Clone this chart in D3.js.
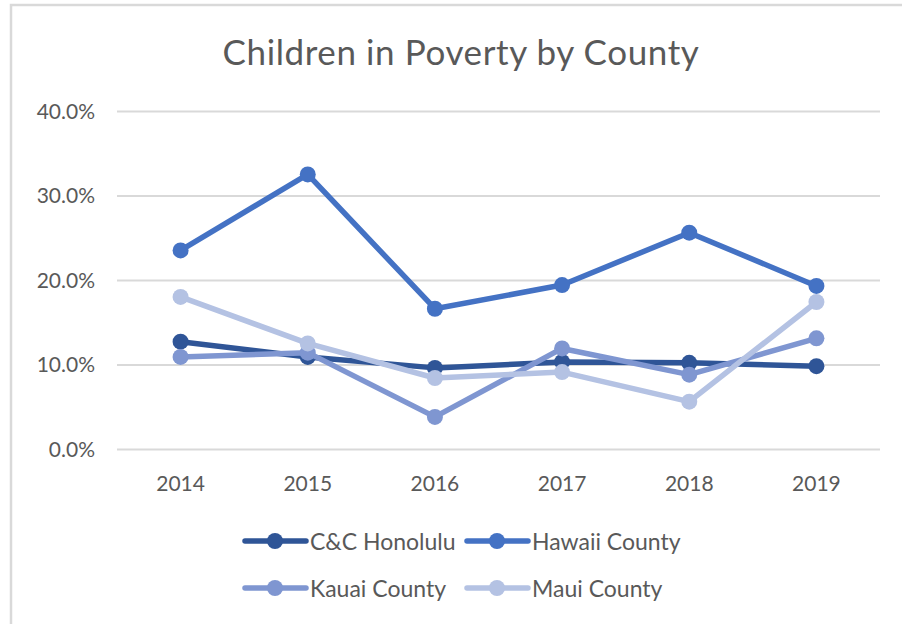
<!DOCTYPE html>
<html>
<head>
<meta charset="utf-8">
<script src="https://cdn.jsdelivr.net/npm/d3@7"></script>
<style>
  body { margin: 0; background: #fff; }
  text { font-family: Lato, "Open Sans", sans-serif; fill: #595959; }
</style>
</head>
<body>
<div id="chart"></div>
<script>
// data (percent)
const years = ['2014', '2015', '2016', '2017', '2018', '2019'];
const honolulu = [12.7, 10.9, 9.6, 10.3, 10.2, 9.8];
const hawaii = [23.5, 32.5, 16.6, 19.4, 25.6, 19.3];
const kauai = [10.9, 11.4, 3.8, 11.9, 8.8, 13.1];
const maui = [18.0, 12.5, 8.4, 9.1, 5.6, 17.4];
const seriesNames = ['C&C Honolulu', 'Hawaii County', 'Kauai County', 'Maui County'];
const yTicks = [0, 10, 20, 30, 40];

const colors = ['#2f5597', '#4472c4', '#7f96d1', '#b4c2e3'];
const series = [honolulu, hawaii, kauai, maui].map((vals, i) => ({
  name: seriesNames[i],
  color: colors[i],
  values: vals.map((v, j) => ({ year: years[j], v })),
}));

const w = 902;
const h = 624;
const svg = d3.select('#chart')
  .append('svg')
  .attr('width', w)
  .attr('height', h);

// chart frame (runs off right/bottom edge in the original)
svg.append('rect')
  .attr('x', 11)
  .attr('y', 5)
  .attr('width', w + 20)
  .attr('height', h + 20)
  .attr('fill', 'none')
  .attr('stroke', '#d9d9d9')
  .attr('stroke-width', 2.5);

svg.append('text')
  .attr('x', 461)
  .attr('y', 65)
  .attr('text-anchor', 'middle')
  .attr('font-size', '35px')
  .attr('letter-spacing', '0.6px')
  .text('Children in Poverty by County');

const x = d3.scalePoint()
  .domain(years)
  .range([117, 880])
  .padding(0.5);

const y = d3.scaleLinear()
  .domain([0, 40])
  .range([449, 111]);

// gridlines
svg.append('g')
  .attr('transform', 'translate(117,0)')
  .call(d3.axisLeft(y).tickValues(yTicks).tickSize(-763).tickFormat(''))
  .call((g) => g.select('.domain').remove())
  .call((g) => g.selectAll('line').attr('stroke', '#d9d9d9').attr('stroke-width', 2));

// y labels
svg.append('g')
  .selectAll('text')
  .data(yTicks)
  .enter()
  .append('text')
  .attr('x', 95)
  .attr('y', (d) => y(d) + 7.5)
  .attr('text-anchor', 'end')
  .attr('font-size', '21px')
  .text((d) => `${d.toFixed(1)}%`);

// x labels
svg.append('g')
  .selectAll('text')
  .data(years)
  .enter()
  .append('text')
  .attr('x', (d) => x(d))
  .attr('y', 491)
  .attr('text-anchor', 'middle')
  .attr('font-size', '21px')
  .text((d) => d);

const line = d3.line()
  .x((d) => x(d.year))
  .y((d) => y(d.v));

const sg = svg.selectAll('.series')
  .data(series)
  .enter()
  .append('g');

sg.append('path')
  .attr('d', (s) => line(s.values))
  .attr('fill', 'none')
  .attr('stroke', (s) => s.color)
  .attr('stroke-width', 5.5)
  .attr('stroke-linejoin', 'round');

sg.selectAll('circle')
  .data((s) => s.values.map((p) => ({ ...p, color: s.color })))
  .enter()
  .append('circle')
  .attr('cx', (d) => x(d.year))
  .attr('cy', (d) => y(d.v))
  .attr('r', 8)
  .attr('fill', (d) => d.color);

// legend, 2 x 2
const legend = svg.selectAll('.legend')
  .data(series)
  .enter()
  .append('g')
  .attr('transform', (_, i) => `translate(${i % 2 === 0 ? 245 : 467},${i < 2 ? 541 : 588})`);

legend.append('line')
  .attr('x1', 0)
  .attr('x2', 61)
  .attr('stroke', (s) => s.color)
  .attr('stroke-width', 5.5)
  .attr('stroke-linecap', 'round');

legend.append('circle')
  .attr('cx', 30)
  .attr('r', 8)
  .attr('fill', (s) => s.color);

legend.append('text')
  .attr('x', 65)
  .attr('y', 8.5)
  .attr('font-size', '23px')
  .text((s) => s.name);
</script>
</body>
</html>
